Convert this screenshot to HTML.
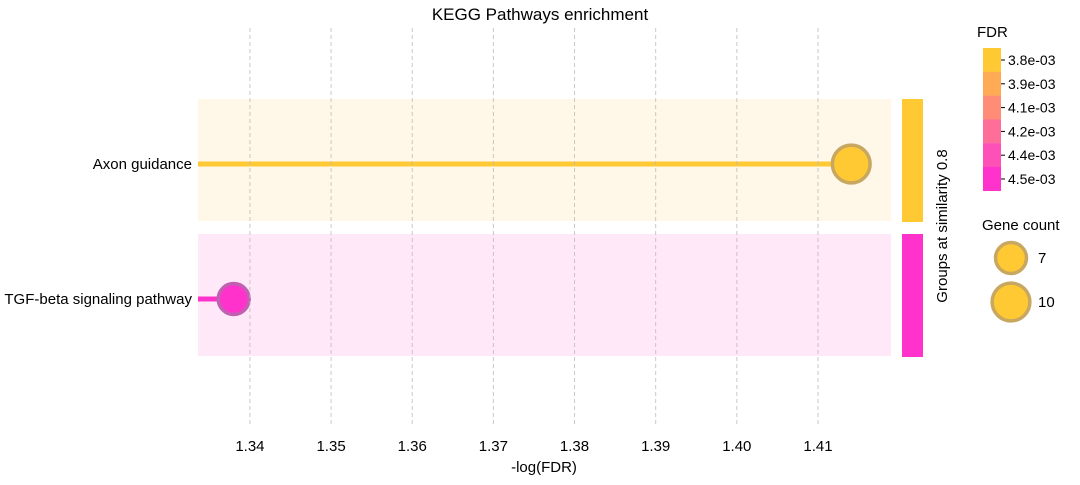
<!DOCTYPE html>
<html><head><meta charset="utf-8"><style>
body{margin:0;background:#fff;font-family:"Liberation Sans",sans-serif;}
svg text{font-family:"Liberation Sans",sans-serif;fill:#000;}
</style></head><body>
<svg id="c" width="1080" height="480"></svg>
<script>
const pathways=["Axon guidance","TGF-beta signaling pathway"];
const negLogFdr=[1.4141,1.3380];
const geneCounts=[10,7];
const colors=["#ffc933","#ff33cc"];
const bands=["#fff8e8","#ffe8f8"];
const xTicks=[1.34,1.35,1.36,1.37,1.38,1.39,1.40,1.41];
const xTickLabels=["1.34","1.35","1.36","1.37","1.38","1.39","1.40","1.41"];
const fdrLabels=["3.8e-03","3.9e-03","4.1e-03","4.2e-03","4.4e-03","4.5e-03"];
const fdrColors=["#ffc933","#ffab55","#ff8c77","#ff6e99","#ff50b8","#ff33cc"];
const legendCounts=[7,10];

const svg=document.getElementById('c');const NS="http://www.w3.org/2000/svg";
function mk(t,a,p){const e=document.createElementNS(NS,t);for(const k in a)e.setAttribute(k,a[k]);(p||svg).appendChild(e);return e;}
const X0=198,X1=891,xmin=1.3336,xmax=1.4190;
const x=v=>X0+(v-xmin)/(xmax-xmin)*(X1-X0);
const rowY=[164,299];const bandH=122;
const r=c=>Math.sqrt(c)*6.6;

let t=mk('text',{x:540,y:20,'text-anchor':'middle','font-size':17});t.textContent="KEGG Pathways enrichment";



pathways.forEach((p,i)=>{
  const b=mk('rect',{x:X0,y:rowY[i]-bandH/2-4,width:X1-X0,height:bandH,fill:bands[i]});
  
  
  const g=mk('rect',{x:902,y:rowY[i]-65,width:21,height:123,fill:colors[i]});
  
  
});
pathways.forEach((p,i)=>{
  const y=rowY[i];
  const l=mk('line',{x1:X0,x2:x(negLogFdr[i]),y1:y,y2:y,stroke:colors[i],'stroke-width':5});
  
  
  const c=mk('circle',{cx:x(negLogFdr[i]),cy:y,r:r(geneCounts[i])-2,fill:colors[i],stroke:i==0?'#c8a860':'#c060b0','stroke-width':3.5});
  
  
  const lb=mk('text',{x:192,y:y+5,'text-anchor':'end','font-size':15});lb.textContent=p;
  
  
});
xTicks.forEach((v,i)=>{
  const l=mk('line',{x1:x(v),x2:x(v),y1:28,y2:425,stroke:'#bbb','stroke-dasharray':'4,3','stroke-width':1,opacity:0.8});
  
  
  const tt=mk('text',{x:x(v),y:451,'text-anchor':'middle','font-size':15});tt.textContent=xTickLabels[i];
  
  
});
t=mk('text',{x:544,y:472,'text-anchor':'middle','font-size':15});t.textContent="-log(FDR)";


t=mk('text',{x:0,y:0,'text-anchor':'middle','font-size':15,transform:'translate(947,226) rotate(-90)'});t.textContent="Groups at similarity 0.8";


t=mk('text',{x:977,y:37,'font-size':15});t.textContent="FDR";


fdrLabels.forEach((s,i)=>{
  const y=48+i*23.8;
  const rr=mk('rect',{x:983,y:y,width:18,height:24,fill:fdrColors[i]});
  
  
  mk('line',{x1:1001,x2:1005,y1:y+12,y2:y+12,stroke:'#000'});
  const tt=mk('text',{x:1008,y:y+17,'font-size':14});tt.textContent=s;
  
  
});
t=mk('text',{x:982,y:230,'font-size':15});t.textContent="Gene count";


legendCounts.forEach((n,i)=>{
  const cy=[258,302][i];
  const c=mk('circle',{cx:1011,cy:cy,r:r(n)-2,fill:'#ffc933',stroke:'#c8a860','stroke-width':3.5});
  
  
  const tt=mk('text',{x:1038,y:cy+5,'font-size':15});tt.textContent=n;
  
  
});
</script>
</body></html>
